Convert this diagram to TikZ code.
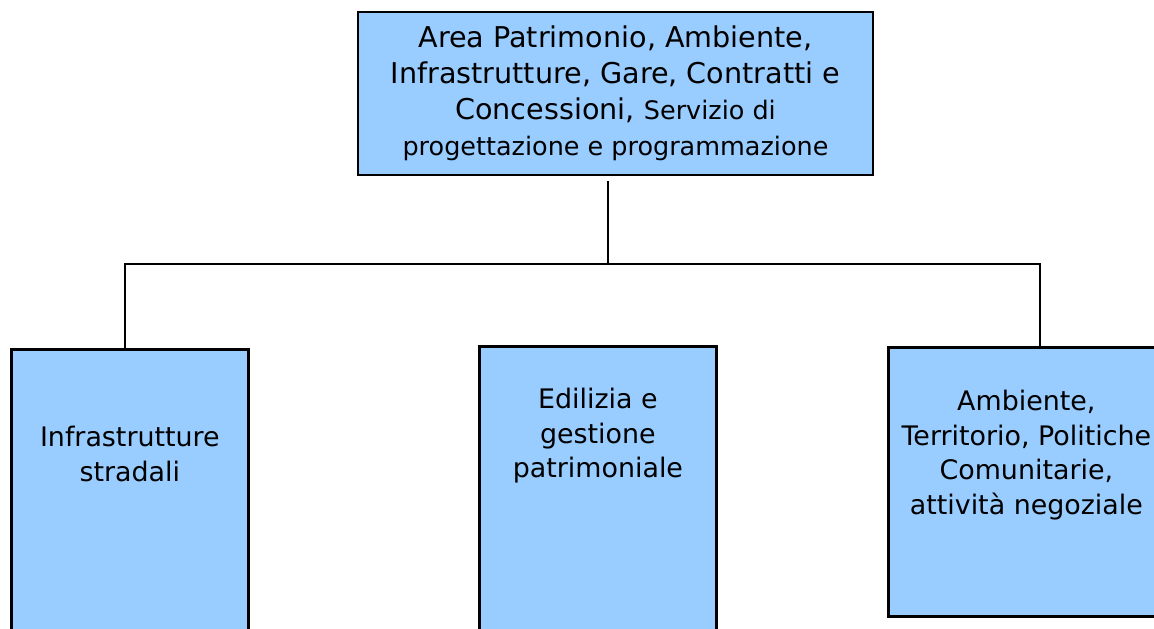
\documentclass[tikz,border=0pt]{standalone}
\usepackage{fontspec}
\setmainfont{DejaVu Sans}
\usetikzlibrary{positioning}
\definecolor{boxblue}{RGB}{153,204,255}
\tikzset{
  box/.style={draw, fill=boxblue, line width=1.6pt, inner sep=0pt},
  boxtxt/.style={align=center, inner sep=0pt, font=\fontsize{15.3}{19.6}\selectfont},
  conn/.style={line width=1.1pt}
}
\newcommand{\piccolo}{\fontsize{14.5}{20.3}\selectfont}
\begin{document}
\begin{tikzpicture}[x=0.02cm,y=-0.02cm]% 1 unit = 1px
\clip (0,0) rectangle (1154,629);

\node[box, minimum width=10.3cm, minimum height=3.26cm, align=center, font=\fontsize{16.3}{20.5}\selectfont] (apice) at (615.5,93.5)
  {Area Patrimonio, Ambiente,\\Infrastrutture, Gare, Contratti e\\Concessioni, {\piccolo Servizio di}\\{\piccolo progettazione e programmazione}};

\node[box, minimum width=4.74cm, minimum height=7cm, anchor=north west] (infra) at (10,348) {};
\node[box, minimum width=4.74cm, minimum height=7cm, anchor=north west] (edil) at (478,345) {};
\node[box, minimum width=5.52cm, minimum height=5.38cm, anchor=north west] (amb) at (887,346) {};

\node[boxtxt, below=1.56cm of infra.north] (infra-t) {Infrastrutture\\stradali};
\node[boxtxt, below=0.86cm of edil.north] (edil-t) {Edilizia e\\gestione\\patrimoniale};
\node[boxtxt, below=0.88cm of amb.north] (amb-t) {Ambiente,\\Territorio, Politiche\\Comunitarie,\\attività negoziale};

\coordinate (hub) at (608,264);
\coordinate (lt) at (125,264);
\coordinate (rt) at (1040,264);
\draw[conn] ([yshift=-0.1cm]apice.south -| hub) -- (hub);
\draw[conn] (infra.north -| lt) |- (rt) -- (amb.north -| rt);
\end{tikzpicture}
\end{document}
